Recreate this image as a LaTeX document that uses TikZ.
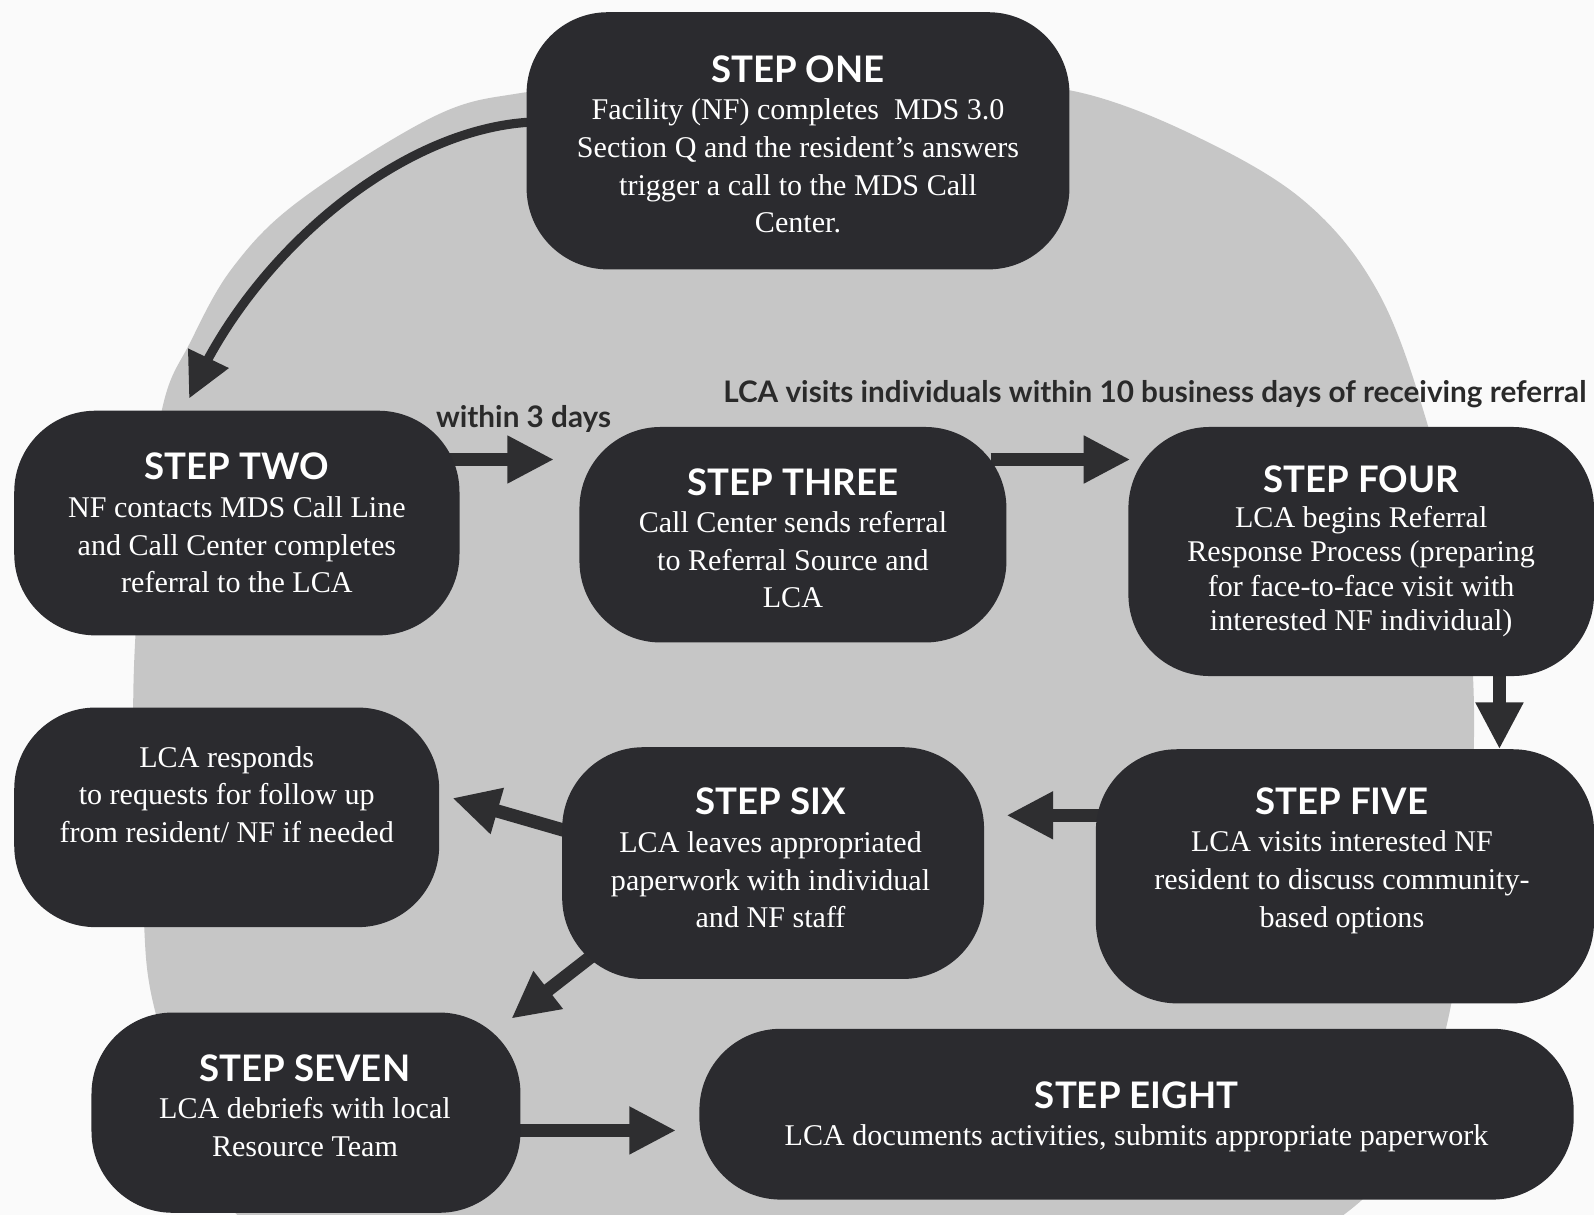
\documentclass[tikz,border=0pt]{standalone}
\usepackage{fontspec}
\setmainfont{Liberation Serif}
\newfontfamily\hdr{Lato}
\usetikzlibrary{arrows.meta,bending}
\definecolor{boxc}{HTML}{2B2B2F}
\definecolor{arrc}{HTML}{2E2E30}
\definecolor{discc}{HTML}{C6C6C6}
\definecolor{paper}{HTML}{FAFAFA}
\definecolor{lbl}{HTML}{2A2A2A}
\pgfdeclarelayer{back}
\pgfdeclarelayer{bg}
\pgfsetlayers{back,bg,main}
\newcommand\stephead[1]{{\hdr\bfseries\fontsize{18}{18.5}\selectfont #1}}
\begin{document}
\begin{tikzpicture}[x=0.5pt,y=-0.5pt,
  stepbox/.style={fill=boxc, rounded corners=40pt, inner sep=0pt},
  steptext/.style={text=white, align=center, font=\fontsize{14.8}{18.5}\selectfont, inner sep=0pt},
  arr/.style={draw=arrc, line width=6.5pt, shorten <=-8pt, -{Triangle[length=23pt,width=22pt]}},
  lab/.style={text=lbl, font=\hdr\bfseries\fontsize{14.6}{16}\selectfont, inner sep=0pt}]
\useasboundingbox (0,0) rectangle (1568,1195);
\begin{pgfonlayer}{back}
\fill[paper] (0,0) rectangle (1568,1195);
\fill[discc] plot[smooth cycle, tension=0.6] coordinates {(600,86) (700,84) (780,84) (860,84) (960,86) (1058,90) (1170,131) (1282,197) (1356,288) (1405,420) (1438,560) (1450,700) (1442,860) (1425,1000) (1385,1120) (1315,1200) (1150,1290) (780,1320) (400,1290) (220,1180) (154,1000) (140,880) (131,700) (140,540) (160,400) (187,337) (229,263) (295,197) (426,115) (509,92)};
\end{pgfonlayer}

% boxes
\node[stepbox, minimum width=267pt, minimum height=126.5pt] (s1) at (785,138.5) {};
\node[stepbox, minimum width=219pt, minimum height=110.5pt] (s2) at (233,514.5) {};
\node[stepbox, minimum width=210pt, minimum height=106pt] (s3) at (780,526) {};
\node[stepbox, minimum width=229pt, minimum height=122.5pt] (s4) at (1339,542.5) {};
\node[stepbox, minimum width=209pt, minimum height=108pt] (r) at (223,804) {};
\node[stepbox, minimum width=207.5pt, minimum height=114pt] (s6) at (760.5,849) {};
\node[stepbox, minimum width=245pt, minimum height=125pt] (s5) at (1323,862) {};
\node[stepbox, minimum width=211pt, minimum height=98.5pt] (s7) at (301,1094.5) {};
\node[stepbox, minimum width=430pt, minimum height=84pt] (s8) at (1118,1096) {};

% texts
\node[steptext] (s1t) at (785,142) {\stephead{STEP ONE}\\Facility (NF) completes\ \ MDS 3.0\\Section Q and the resident’s answers\\trigger a call to the MDS Call\\Center.};
\node[steptext] (s2t) at (233,514.5) {\stephead{STEP TWO}\\NF contacts MDS Call Line\\and Call Center completes\\referral to the LCA};
\node[steptext] (s3t) at (780,529.5) {\stephead{STEP THREE}\\Call Center sends referral\\to Referral Source and\\LCA};
\node[steptext, font=\fontsize{14.8}{17}\selectfont] (s4t) at (1339,542.5) {\stephead{STEP FOUR}\\LCA begins Referral\\Response Process (preparing\\for face-to-face visit with\\interested NF individual)};
\node[steptext] (rt) at (223,781.5) {LCA responds\\to requests for follow up\\from resident/ NF if needed};
\node[steptext] (s6t) at (758,844) {\stephead{STEP SIX}\\LCA leaves appropriated\\paperwork with individual\\and NF staff};
\node[steptext] (s5t) at (1320,846.5) {\stephead{STEP FIVE}\\LCA visits interested NF\\resident to discuss community-\\based options};
\node[steptext] (s7t) at (300,1087.5) {\stephead{STEP SEVEN}\\LCA debriefs with local\\Resource Team};
\node[steptext] (s8t) at (1118,1098.5) {\stephead{STEP EIGHT}\\LCA documents activities, submits appropriate paperwork};

% labels
\node[lab] (l3) at (515,412) {within 3 days};
\node[lab] (l10) at (1136,388) {LCA visits individuals within 10 business days of receiving referral};

% arrow tips
\coordinate (t1) at (186,392);
\coordinate (t2) at (545,452);
\coordinate (t3) at (1112,452);
\coordinate (t4) at (1475,737);
\coordinate (t5) at (990,802);
\coordinate (t6) at (445,785);
\coordinate (t7) at (503,1002);
\coordinate (t8) at (665,1112);

\begin{pgfonlayer}{bg}
\draw[arr, line width=4.5pt, -{Triangle[length=22pt,width=21pt]}] (s1.176) .. controls (400,120) and (245,250) .. (t1);
\draw[arr] (s2.east |- t2) -- (t2);
\draw[arr] (s3.east |- t3) -- (t3);
\draw[arr] (s4.south -| t4) -- (t4);
\draw[arr] (s5.west |- t5) -- (t5);
\draw[arr] (s6.171) -- (t6);
\draw[arr, shorten <=-30pt] (s6.south west) -- (t7);
\draw[arr] (s7.east |- t8) -- (t8);
\end{pgfonlayer}
\end{tikzpicture}
\end{document}
